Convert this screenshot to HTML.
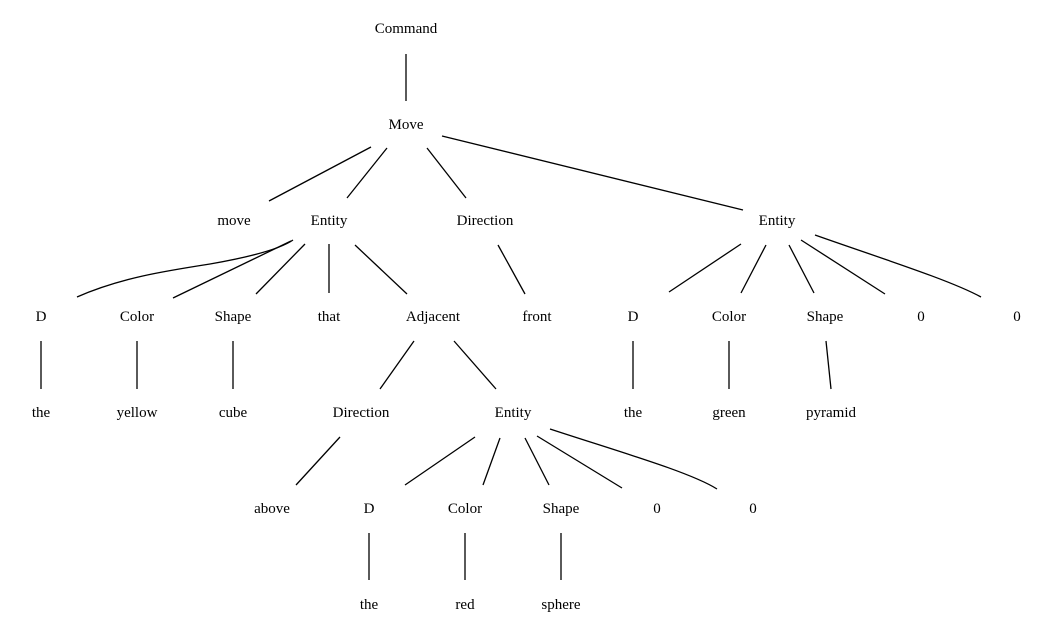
<!DOCTYPE html>
<html><head><style>
html,body{margin:0;padding:0;background:#fff;}
#w{position:relative;width:1059px;height:635px;overflow:hidden;}
svg{display:block;position:absolute;left:0;top:0;}
line,path{stroke:#000;stroke-width:1.3;fill:none;}
.t{position:absolute;width:120px;margin-left:-60px;text-align:center;height:20px;line-height:20px;margin-top:-10px;font-family:"Liberation Serif","Times New Roman",Times,serif;font-size:15px;color:#000;white-space:nowrap;}
</style></head><body>
<div id="w">
<svg width="1059" height="635" viewBox="0 0 1059 635" xmlns="http://www.w3.org/2000/svg">
<line x1="406" y1="54" x2="406" y2="101"/>
<line x1="371" y1="147" x2="269" y2="201"/>
<line x1="387" y1="148" x2="347" y2="198"/>
<line x1="427" y1="148" x2="466" y2="198"/>
<line x1="442" y1="136" x2="743" y2="210"/>
<path d="M77,297 C120,278 165,271 210,264 C250,257 280,249 293,240"/>
<line x1="291" y1="241" x2="173" y2="298"/>
<line x1="305" y1="244" x2="256" y2="294"/>
<line x1="329" y1="244" x2="329" y2="293"/>
<line x1="355" y1="245" x2="407" y2="294"/>
<line x1="498" y1="245" x2="525" y2="294"/>
<line x1="741" y1="244" x2="669" y2="292"/>
<line x1="766" y1="245" x2="741" y2="293"/>
<line x1="789" y1="245" x2="814" y2="293"/>
<line x1="801" y1="240" x2="885" y2="294"/>
<path d="M815,235 C880,258 950,280 981,297"/>
<line x1="41" y1="341" x2="41" y2="389"/>
<line x1="137" y1="341" x2="137" y2="389"/>
<line x1="233" y1="341" x2="233" y2="389"/>
<line x1="414" y1="341" x2="380" y2="389"/>
<line x1="454" y1="341" x2="496" y2="389"/>
<line x1="633" y1="341" x2="633" y2="389"/>
<line x1="729" y1="341" x2="729" y2="389"/>
<line x1="826" y1="341" x2="831" y2="389"/>
<line x1="340" y1="437" x2="296" y2="485"/>
<line x1="475" y1="437" x2="405" y2="485"/>
<line x1="500" y1="438" x2="483" y2="485"/>
<line x1="525" y1="438" x2="549" y2="485"/>
<line x1="537" y1="436" x2="622" y2="488"/>
<path d="M550,429 C620,452 690,472 717,489"/>
<line x1="369" y1="533" x2="369" y2="580"/>
<line x1="465" y1="533" x2="465" y2="580"/>
<line x1="561" y1="533" x2="561" y2="580"/>
</svg>
<div class="t" style="left:406px;top:29px">Command</div>
<div class="t" style="left:406px;top:125px">Move</div>
<div class="t" style="left:234px;top:221px">move</div>
<div class="t" style="left:329px;top:221px">Entity</div>
<div class="t" style="left:485px;top:221px">Direction</div>
<div class="t" style="left:777px;top:221px">Entity</div>
<div class="t" style="left:41px;top:317px">D</div>
<div class="t" style="left:137px;top:317px">Color</div>
<div class="t" style="left:233px;top:317px">Shape</div>
<div class="t" style="left:329px;top:317px">that</div>
<div class="t" style="left:433px;top:317px">Adjacent</div>
<div class="t" style="left:537px;top:317px">front</div>
<div class="t" style="left:633px;top:317px">D</div>
<div class="t" style="left:729px;top:317px">Color</div>
<div class="t" style="left:825px;top:317px">Shape</div>
<div class="t" style="left:921px;top:317px">0</div>
<div class="t" style="left:1017px;top:317px">0</div>
<div class="t" style="left:41px;top:413px">the</div>
<div class="t" style="left:137px;top:413px">yellow</div>
<div class="t" style="left:233px;top:413px">cube</div>
<div class="t" style="left:361px;top:413px">Direction</div>
<div class="t" style="left:513px;top:413px">Entity</div>
<div class="t" style="left:633px;top:413px">the</div>
<div class="t" style="left:729px;top:413px">green</div>
<div class="t" style="left:831px;top:413px">pyramid</div>
<div class="t" style="left:272px;top:509px">above</div>
<div class="t" style="left:369px;top:509px">D</div>
<div class="t" style="left:465px;top:509px">Color</div>
<div class="t" style="left:561px;top:509px">Shape</div>
<div class="t" style="left:657px;top:509px">0</div>
<div class="t" style="left:753px;top:509px">0</div>
<div class="t" style="left:369px;top:605px">the</div>
<div class="t" style="left:465px;top:605px">red</div>
<div class="t" style="left:561px;top:605px">sphere</div>
</div>
</body></html>
